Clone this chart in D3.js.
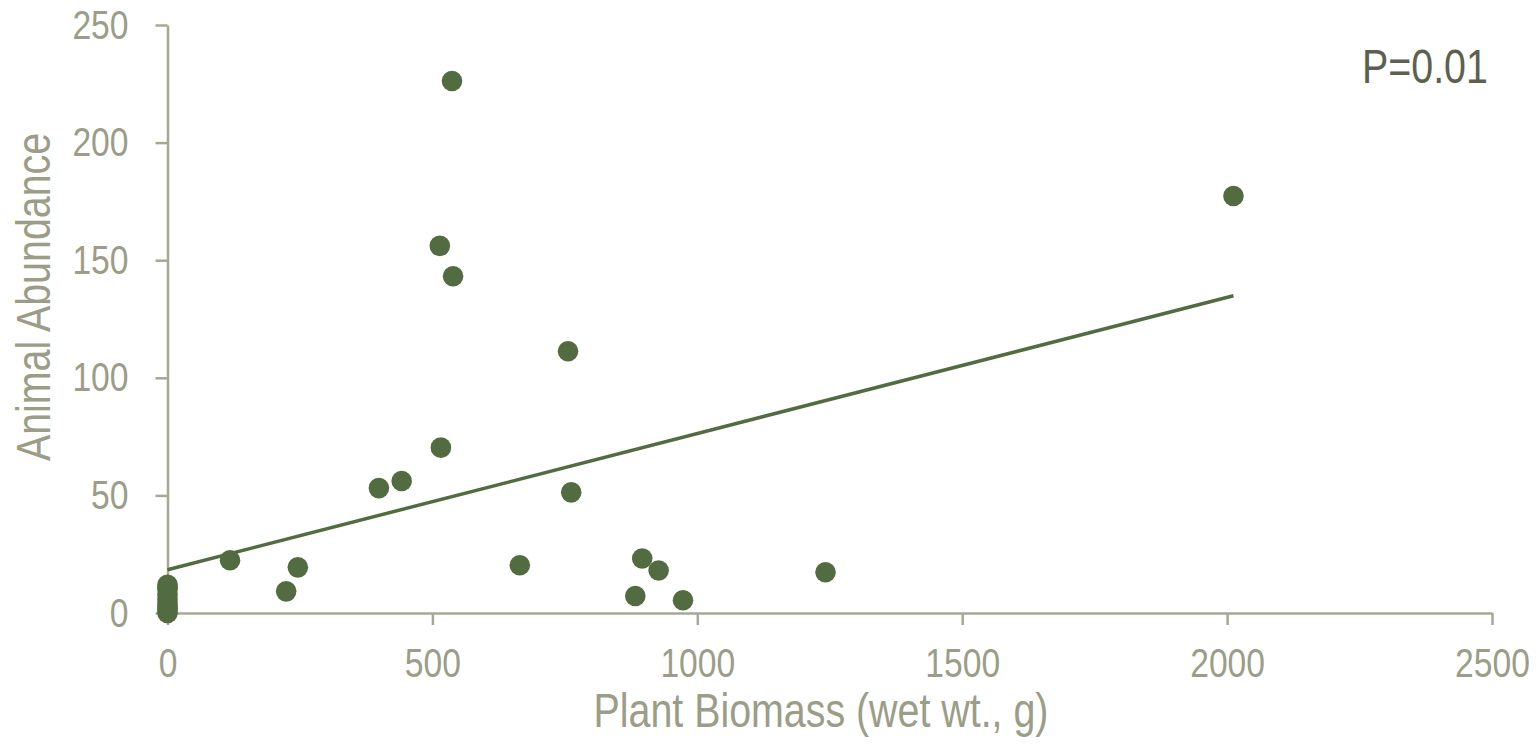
<!DOCTYPE html>
<html>
<head>
<meta charset="utf-8">
<script src="https://cdn.jsdelivr.net/npm/d3@7"></script>
<style>
  html, body { margin: 0; padding: 0; background: #fff; }
  svg text { font-family: "Liberation Sans Narrow", "Arial Narrow", "Liberation Sans", sans-serif; }
</style>
</head>
<body>
<div id="chart"></div>
<script>
// plant biomass (x) and animal abundance (y)
var biomass = [0, 0, 0, 0, 0, 0, 0, 0, 0, 0,
  118, 224, 246, 399, 442, 514, 516, 537, 539, 665,
  756, 762, 883, 896, 927, 973, 1242, 2012];
var abundance = [0, 1, 2, 3, 4, 6, 8, 10, 11, 12,
  22.4, 9.2, 19.4, 53.1, 56.1, 156.1, 70.3, 226.2, 143.2, 20.3,
  111.3, 51.3, 7.2, 23.2, 18.1, 5.4, 17.3, 177.3];

var xTicks = [0, 500, 1000, 1500, 2000, 2500];
var yTicks = [0, 50, 100, 150, 200, 250];

// linear trend line as drawn in the picture
var trendIntercept = 18.4;
var trendSlope = 0.0579;
var pLabel = "P=0.01";

var svgWidth = 1538;
var svgHeight = 748;

var margin = {top: 25, right: 46, bottom: 135, left: 167.5};
var width = svgWidth - margin.left - margin.right;
var height = svgHeight - margin.top - margin.bottom;

var svg = d3.select('#chart').append('svg')
  .attr('width', svgWidth)
  .attr('height', svgHeight);

var g = svg.append("g")
  .attr("transform", "translate(" + margin.left + "," + margin.top + ")");

var x = d3.scaleLinear().domain([0, 2500]).range([0, width]);
var y = d3.scaleLinear().domain([0, 250]).range([height, 0]);

var axisColor = "#a6a894";
var labelColor = "#9b9d88";
var dotColor = "#536b41";

var xAxis = g.append("g")
  .attr("transform", "translate(0," + height + ")")
  .call(d3.axisBottom(x).tickValues(xTicks).tickFormat(d3.format("d"))
    .tickSize(12).tickSizeOuter(0).tickPadding(23));

var yAxis = g.append("g")
  .call(d3.axisLeft(y).tickValues(yTicks).tickFormat(d3.format("d"))
    .tickSize(12).tickSizeOuter(0).tickPadding(27));

[xAxis, yAxis].forEach(function(a) {
  a.select(".domain").attr("stroke", axisColor).attr("stroke-width", 2.5);
  a.selectAll(".tick line").attr("stroke", axisColor).attr("stroke-width", 2.5);
  a.selectAll(".tick text")
    .attr("fill", labelColor)
    .style("font-size", "41px");
});

// trend line
var trendData = [0, d3.max(biomass)];
g.append("path")
  .datum(trendData)
  .attr("fill", "none")
  .attr("stroke", dotColor)
  .attr("stroke-width", 3.5)
  .attr("d", d3.line()
    .x(function(d) { return x(d); })
    .y(function(d) { return y(trendIntercept + trendSlope * d); }));

// points
g.selectAll("circle.pt")
  .data(biomass)
  .enter().append("circle")
  .attr("class", "pt")
  .attr("cx", function(d) { return x(d); })
  .attr("cy", function(d, i) { return y(abundance[i]); })
  .attr("r", 10.3)
  .attr("fill", dotColor);

// axis titles
svg.append("text")
  .attr("x", 821)
  .attr("y", 727)
  .attr("text-anchor", "middle")
  .attr("fill", labelColor)
  .style("font-size", "48px")
  .text("Plant Biomass (wet wt., g)");

svg.append("text")
  .attr("transform", "translate(50,297) rotate(-90)")
  .attr("text-anchor", "middle")
  .attr("fill", labelColor)
  .style("font-size", "48px")
  .text("Animal Abundance");

svg.append("text")
  .attr("x", 1362)
  .attr("y", 83)
  .attr("fill", "#5d604f")
  .style("font-size", "48px")
  .text(pLabel);

// no narrow font installed: squeeze the glyphs to look like the condensed face
svg.selectAll("text").each(function() {
  var w = this.getComputedTextLength();
  d3.select(this)
    .attr("textLength", w * 0.82)
    .attr("lengthAdjust", "spacingAndGlyphs");
});
</script>
</body>
</html>
